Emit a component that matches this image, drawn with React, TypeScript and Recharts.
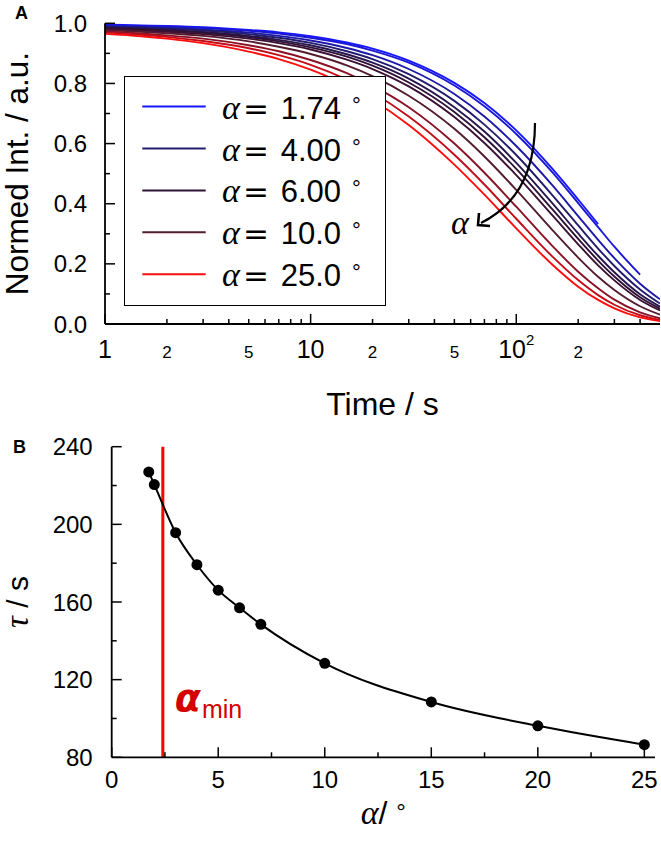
import { LineChart, Line, XAxis, YAxis, ReferenceLine } from 'recharts'

const SANS = '"Liberation Sans", Arial, sans-serif'
const SERIF = '"Liberation Serif", "DejaVu Serif", serif'
const INK = '#000'

// ── Panel A — normalised intensity vs time (log) ───────────────────────────

const TIME_S = [1, 1.5, 2, 3, 5, 7, 10, 15, 20, 30, 50, 70, 100, 150, 200, 250, 300, 400, 500]

const I_A174 = [0.996, 0.993, 0.991, 0.987, 0.978, 0.970, 0.957, 0.936, 0.916, 0.876, 0.802, 0.735, 0.644, 0.516, 0.414, 0.332, null, null, null]
const I_A2 = [0.993, 0.991, 0.989, 0.984, 0.975, 0.966, 0.952, 0.931, 0.909, 0.869, 0.793, 0.724, 0.632, 0.504, 0.402, 0.322, 0.257, 0.164, null]
const I_A3 = [0.990, 0.987, 0.985, 0.979, 0.969, 0.958, 0.943, 0.918, 0.894, 0.848, 0.765, 0.690, 0.592, 0.461, 0.359, 0.280, 0.219, 0.134, 0.082]
const I_A4 = [0.988, 0.985, 0.982, 0.976, 0.964, 0.952, 0.935, 0.907, 0.881, 0.831, 0.742, 0.663, 0.562, 0.428, 0.328, 0.251, 0.193, 0.115, 0.068]
const I_A5 = [0.985, 0.982, 0.978, 0.971, 0.958, 0.945, 0.927, 0.897, 0.869, 0.816, 0.721, 0.640, 0.536, 0.401, 0.301, 0.227, 0.172, 0.099, 0.058]
const I_A6 = [0.984, 0.980, 0.976, 0.968, 0.954, 0.940, 0.920, 0.889, 0.859, 0.803, 0.705, 0.621, 0.516, 0.381, 0.283, 0.211, 0.158, 0.089, 0.051]
const I_A7 = [0.981, 0.976, 0.972, 0.964, 0.949, 0.934, 0.913, 0.879, 0.848, 0.790, 0.688, 0.602, 0.495, 0.361, 0.265, 0.195, 0.145, 0.080, 0.045]
const I_A10 = [0.977, 0.972, 0.967, 0.958, 0.940, 0.922, 0.898, 0.860, 0.824, 0.759, 0.649, 0.557, 0.446, 0.312, 0.221, 0.157, 0.113, 0.059, 0.031]
const I_A15 = [0.973, 0.966, 0.960, 0.949, 0.927, 0.907, 0.878, 0.834, 0.793, 0.721, 0.600, 0.503, 0.390, 0.259, 0.174, 0.119, 0.081, 0.039, 0.019]
const I_A20 = [0.969, 0.962, 0.955, 0.941, 0.917, 0.894, 0.862, 0.813, 0.769, 0.690, 0.563, 0.464, 0.350, 0.224, 0.146, 0.096, 0.064, 0.029, 0.013]
const I_A25 = [0.965, 0.957, 0.949, 0.934, 0.906, 0.881, 0.846, 0.793, 0.745, 0.662, 0.530, 0.430, 0.318, 0.197, 0.124, 0.080, 0.052, 0.022, 0.010]

const CURVE_KEYS = ['a1.74', 'a2', 'a3', 'a4', 'a5', 'a6', 'a7', 'a10', 'a15', 'a20', 'a25']
const CURVE_VALUES = [I_A174, I_A2, I_A3, I_A4, I_A5, I_A6, I_A7, I_A10, I_A15, I_A20, I_A25]
const CURVE_COLORS = [
  '#1616ff', '#1a18d4', '#1d1aa8', '#221c6e', '#28164e', '#2e1236',
  '#3c1034', '#541c30', '#8a1226', '#c20c18', '#ff0c0c',
]

// legend only shows a subset of the curves
const LEGEND_CURVES = [0, 3, 5, 7, 10]
const LEGEND_LABELS = ['1.74', '4.00', '6.00', '10.0', '25.0']

const TIME_TICKS = [1, 2, 3, 4, 5, 6, 7, 8, 9, 10, 20, 30, 40, 50, 60, 70, 80, 90, 100, 200, 300, 400]
const TIME_DECADES = [1, 10, 100]
const TIME_LABELS: Record<number, string> = { 1: '1', 2: '2', 5: '5', 10: '10', 20: '2', 50: '5', 100: '10', 200: '2' }
const INT_TICKS = [0, 0.1, 0.2, 0.3, 0.4, 0.5, 0.6, 0.7, 0.8, 0.9, 1]

const rowsA = TIME_S.map((t, i) => {
  const row: Record<string, number | null> = { t }
  CURVE_KEYS.forEach((k, j) => {
    row[k] = CURVE_VALUES[j][i]
  })
  return row
})

// ── Panel B — tau vs alpha ─────────────────────────────────────────────────

const ALPHA_DEG = [1.74, 2, 3, 4, 5, 6, 7, 10, 15, 20, 25]
const TAU_S = [227, 220.5, 195.7, 179.2, 166.1, 157, 148.5, 128.4, 108.5, 96.2, 86.5]
const ALPHA_MIN = 2.4
const ALPHA_TICKS = [0, 2.5, 5, 7.5, 10, 12.5, 15, 17.5, 20, 22.5, 25]
const TAU_TICKS = [80, 100, 120, 140, 160, 180, 200, 220, 240]

const rowsB = ALPHA_DEG.map((a, i) => ({ alpha: a, tau: TAU_S[i] }))

const frameLine = { stroke: INK, strokeWidth: 1.8 }

// ── tick renderers (all ticks point inwards, like the original) ────────────

function TimeTick({ x, y, payload }: any) {
  const v = payload.value
  const big = TIME_DECADES.includes(v)
  const label = TIME_LABELS[v]
  return (
    <g>
      <line x1={x} x2={x} y1={y} y2={y - (big ? 10 : 5)} stroke={INK} strokeWidth={1.5} />
      {label && (
        <text x={x} y={y + 34} textAnchor="middle" fontFamily={SANS} fontSize={big ? 25 : 17} fill={INK}>
          {label}
          {v === 100 && (
            <tspan dy={-13} fontSize={15}>
              2
            </tspan>
          )}
        </text>
      )}
    </g>
  )
}

function TimeTickTop({ x, y, payload }: any) {
  const big = TIME_DECADES.includes(payload.value)
  return <line x1={x} x2={x} y1={y} y2={y + (big ? 10 : 5)} stroke={INK} strokeWidth={1.5} />
}

function IntTick({ x, y, payload }: any) {
  const v = payload.value
  const major = Math.round(v * 10) % 2 === 0
  return (
    <g>
      <line x1={x} x2={x + (major ? 10 : 5)} y1={y} y2={y} stroke={INK} strokeWidth={1.5} />
      {major && (
        <text x={x - 18} y={y + 8.5} textAnchor="end" fontFamily={SANS} fontSize={24} fill={INK}>
          {v.toFixed(1)}
        </text>
      )}
    </g>
  )
}

function IntTickRight({ x, y, payload }: any) {
  const major = Math.round(payload.value * 10) % 2 === 0
  return <line x1={x} x2={x - (major ? 10 : 5)} y1={y} y2={y} stroke={INK} strokeWidth={1.5} />
}

function AlphaTick({ x, y, payload }: any) {
  const v = payload.value
  const major = v % 5 === 0
  return (
    <g>
      <line x1={x} x2={x} y1={y} y2={y - (major ? 10 : 5)} stroke={INK} strokeWidth={1.5} />
      {major && (
        <text x={x} y={y + 31} textAnchor="middle" fontFamily={SANS} fontSize={24} fill={INK}>
          {v}
        </text>
      )}
    </g>
  )
}

function AlphaTickTop({ x, y, payload }: any) {
  const major = payload.value % 5 === 0
  return <line x1={x} x2={x} y1={y} y2={y + (major ? 10 : 5)} stroke={INK} strokeWidth={1.5} />
}

function TauTick({ x, y, payload }: any) {
  const v = payload.value
  const major = v % 40 === 0
  return (
    <g>
      <line x1={x} x2={x + (major ? 10 : 5)} y1={y} y2={y} stroke={INK} strokeWidth={1.5} />
      {major && (
        <text x={x - 19} y={y + 8.5} textAnchor="end" fontFamily={SANS} fontSize={24} fill={INK}>
          {v}
        </text>
      )}
    </g>
  )
}

function TauTickRight({ x, y, payload }: any) {
  const major = payload.value % 40 === 0
  return <line x1={x} x2={x - (major ? 10 : 5)} y1={y} y2={y} stroke={INK} strokeWidth={1.5} />
}

// ── axis titles ────────────────────────────────────────────────────────────

const TimeTitle = ({ viewBox }: any) => (
  <text x={viewBox.x + viewBox.width / 2} y={viewBox.y + 91} textAnchor="middle" fontFamily={SANS} fontSize={32} fill={INK}>
    Time / s
  </text>
)

const IntTitle = ({ viewBox }: any) => (
  <text
    transform={`translate(28,${viewBox.y + viewBox.height / 2}) rotate(-90)`}
    textAnchor="middle"
    fontFamily={SANS}
    fontSize={31.5}
    fill={INK}
  >
    Normed Int. / a.u.
  </text>
)

const AlphaTitle = ({ viewBox }: any) => (
  <text x={viewBox.x + viewBox.width / 2} y={viewBox.y + 67} textAnchor="middle" fontFamily={SANS} fontSize={32} fill={INK}>
    <tspan fontFamily={SERIF} fontStyle="italic" fontSize={34}>α</tspan>
    <tspan>/ </tspan>
    <tspan fontSize={24} dy={-4}>°</tspan>
  </text>
)

const TauTitle = ({ viewBox }: any) => (
  <text
    transform={`translate(28,${viewBox.y + viewBox.height / 2}) rotate(-90)`}
    textAnchor="middle"
    fontFamily={SANS}
    fontSize={30}
    fill={INK}
  >
    <tspan fontFamily={SERIF} fontStyle="italic" fontSize={33}>τ</tspan>
    <tspan> / s</tspan>
  </text>
)

const AlphaMinLabel = ({ viewBox }: any) => (
  <text x={viewBox.x + 12} y={viewBox.y + 264} fill="#d40000">
    <tspan fontFamily='"DejaVu Sans", sans-serif' fontStyle="italic" fontWeight="bold" fontSize={38}>
      α
    </tspan>
    <tspan fontFamily={SANS} fontSize={25} dx={1} dy={7}>
      min
    </tspan>
  </text>
)

// ── legend + arrow overlay for panel A ─────────────────────────────────────

function CurveLegend() {
  return (
    <div
      style={{
        position: 'absolute',
        left: 124,
        top: 75.7,
        width: 262,
        height: 230,
        boxSizing: 'border-box',
        border: '1.8px solid #000',
        background: '#fff',
      }}
    >
      <svg width={262} height={230} style={{ position: 'absolute', left: -1.8, top: -1.8 }}>
        {LEGEND_CURVES.map((ci, i) => {
          const cy = 31.6 + i * 41.9
          return (
            <g key={ci}>
              <line x1={19.3} x2={82.7} y1={cy} y2={cy} stroke={CURVE_COLORS[ci]} strokeWidth={2} />
              <text y={cy + 12} fill={INK}>
                <tspan x={99} fontFamily={SERIF} fontStyle="italic" fontSize={34}>
                  α
                </tspan>
                <tspan x={120} fontFamily='"DejaVu Sans", sans-serif' fontSize={31}>
                  =
                </tspan>
                <tspan x={157.7} fontFamily={SANS} fontSize={31}>
                  {LEGEND_LABELS[i]}
                </tspan>
                <tspan x={229} dy={-6} fontFamily={SANS} fontSize={22}>
                  °
                </tspan>
              </text>
            </g>
          )
        })}
      </svg>
    </div>
  )
}

function AlphaArrow() {
  return (
    <svg width={661} height={430} style={{ position: 'absolute', left: 0, top: 0, pointerEvents: 'none' }}>
      <path d="M535,123 Q535,196 481,223" fill="none" stroke={INK} strokeWidth={2.2} />
      <path d="M479,213 L478,225 L490,226" fill="none" stroke={INK} strokeWidth={2.6} strokeLinejoin="miter" />
      <text x={460} y={234} textAnchor="middle" fontFamily={SERIF} fontStyle="italic" fontSize={34} fill={INK}>
        α
      </text>
    </svg>
  )
}

export default function App() {
  return (
    <div
      style={{
        position: 'absolute',
        left: 0,
        top: 0,
        width: 661,
        height: 848,
        background: '#fff',
        overflow: 'hidden',
        fontFamily: SANS,
      }}
    >
      <div style={{ position: 'absolute', left: 0, top: 0, width: 661, height: 430 }}>
        <LineChart width={661} height={430} data={rowsA} margin={{ top: 23.3, right: 1, bottom: 6, left: 45 }}>
          <XAxis
            xAxisId="bottom"
            dataKey="t"
            type="number"
            scale="log"
            domain={[1, 500]}
            allowDataOverflow
            ticks={TIME_TICKS}
            interval={0}
            tickLine={false}
            tickSize={0}
            tickMargin={0}
            tick={TimeTick}
            axisLine={frameLine}
            height={100}
            label={TimeTitle}
          />
          <XAxis
            xAxisId="top"
            orientation="top"
            dataKey="t"
            type="number"
            scale="log"
            domain={[1, 500]}
            allowDataOverflow
            ticks={TIME_TICKS}
            interval={0}
            tickLine={false}
            tickSize={0}
            tickMargin={0}
            tick={TimeTickTop}
            axisLine={frameLine}
            height={0}
          />
          <YAxis
            yAxisId="left"
            type="number"
            domain={[0, 1]}
            allowDataOverflow
            ticks={INT_TICKS}
            interval={0}
            tickLine={false}
            tickSize={0}
            tickMargin={0}
            tick={IntTick}
            axisLine={frameLine}
            width={60}
            label={IntTitle}
          />
          <YAxis
            yAxisId="right"
            orientation="right"
            type="number"
            domain={[0, 1]}
            allowDataOverflow
            ticks={INT_TICKS}
            interval={0}
            tickLine={false}
            tickSize={0}
            tickMargin={0}
            tick={IntTickRight}
            axisLine={frameLine}
            width={0}
          />
          {CURVE_KEYS.map((k, i) => (
            <Line
              key={k}
              xAxisId="bottom"
              yAxisId="left"
              dataKey={k}
              type="monotone"
              stroke={CURVE_COLORS[i]}
              strokeWidth={1.9}
              dot={false}
              activeDot={false}
              connectNulls={false}
              isAnimationActive={false}
            />
          ))}
        </LineChart>
        <CurveLegend />
        <AlphaArrow />
        <div style={{ position: 'absolute', left: 15, top: 3, fontFamily: SANS, fontWeight: 'bold', fontSize: 18 }}>A</div>
      </div>

      <div style={{ position: 'absolute', left: 0, top: 430, width: 661, height: 418 }}>
        <LineChart width={661} height={418} data={rowsB} margin={{ top: 16.7, right: 6, bottom: 5.7, left: 41.7 }}>
          <XAxis
            xAxisId="bottom"
            dataKey="alpha"
            type="number"
            domain={[0, 25.5]}
            allowDataOverflow
            ticks={ALPHA_TICKS}
            interval={0}
            tickLine={false}
            tickSize={0}
            tickMargin={0}
            tick={AlphaTick}
            axisLine={frameLine}
            height={85}
            label={AlphaTitle}
          />
          <XAxis
            xAxisId="top"
            orientation="top"
            dataKey="alpha"
            type="number"
            domain={[0, 25.5]}
            allowDataOverflow
            ticks={ALPHA_TICKS}
            interval={0}
            tickLine={false}
            tickSize={0}
            tickMargin={0}
            tick={AlphaTickTop}
            axisLine={frameLine}
            height={0}
          />
          <YAxis
            yAxisId="left"
            type="number"
            domain={[80, 240]}
            allowDataOverflow
            ticks={TAU_TICKS}
            interval={0}
            tickLine={false}
            tickSize={0}
            tickMargin={0}
            tick={TauTick}
            axisLine={frameLine}
            width={70}
            label={TauTitle}
          />
          <YAxis
            yAxisId="right"
            orientation="right"
            type="number"
            domain={[80, 240]}
            allowDataOverflow
            ticks={TAU_TICKS}
            interval={0}
            tickLine={false}
            tickSize={0}
            tickMargin={0}
            tick={TauTickRight}
            axisLine={frameLine}
            width={0}
          />
          <ReferenceLine
            xAxisId="bottom"
            yAxisId="left"
            x={ALPHA_MIN}
            stroke="#ff0000"
            strokeWidth={3}
            label={AlphaMinLabel}
          />
          <Line
            xAxisId="bottom"
            yAxisId="left"
            dataKey="tau"
            type="monotone"
            stroke={INK}
            strokeWidth={2}
            dot={{ r: 5.5, fill: INK, stroke: INK, strokeWidth: 0 }}
            activeDot={false}
            isAnimationActive={false}
          />
        </LineChart>
        <div style={{ position: 'absolute', left: 13, top: 7, fontFamily: SANS, fontWeight: 'bold', fontSize: 18 }}>B</div>
      </div>
    </div>
  )
}
